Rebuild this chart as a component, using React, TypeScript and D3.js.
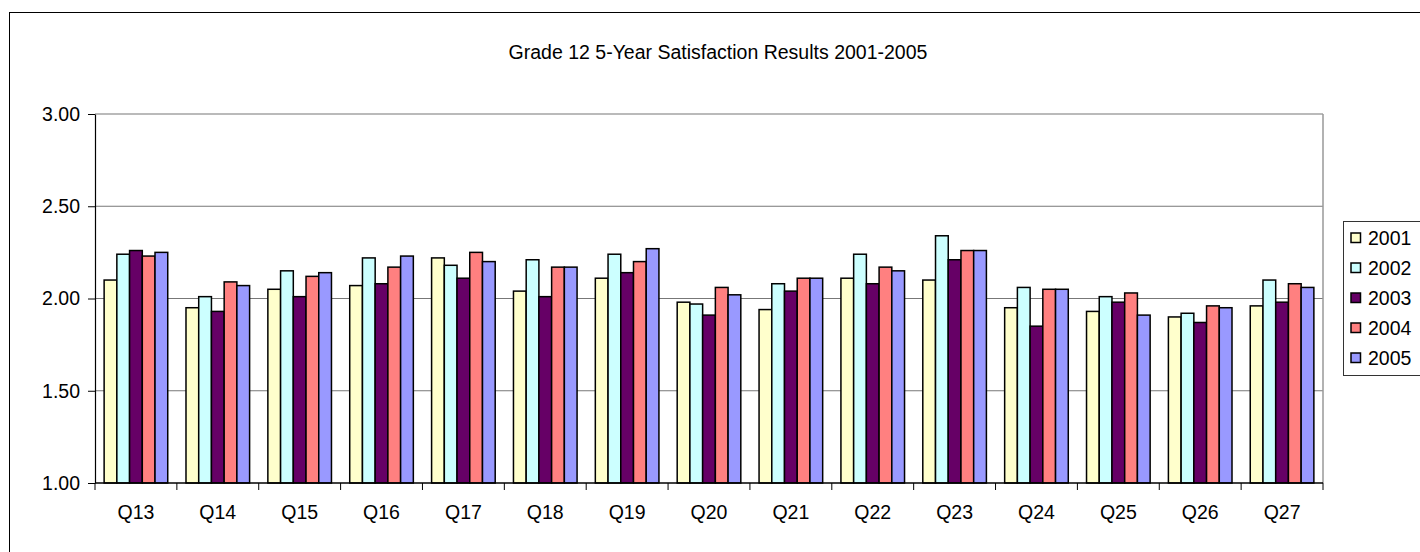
import React, { useEffect, useRef } from 'react'
import * as d3 from 'd3'

const questions = ['Q13', 'Q14', 'Q15', 'Q16', 'Q17', 'Q18', 'Q19', 'Q20', 'Q21', 'Q22', 'Q23', 'Q24', 'Q25', 'Q26', 'Q27']
const years = ['2001', '2002', '2003', '2004', '2005']
const y2001 = [2.10, 1.95, 2.05, 2.07, 2.22, 2.04, 2.11, 1.98, 1.94, 2.11, 2.10, 1.95, 1.93, 1.90, 1.96]
const y2002 = [2.24, 2.01, 2.15, 2.22, 2.18, 2.21, 2.24, 1.97, 2.08, 2.24, 2.34, 2.06, 2.01, 1.92, 2.10]
const y2003 = [2.26, 1.93, 2.01, 2.08, 2.11, 2.01, 2.14, 1.91, 2.04, 2.08, 2.21, 1.85, 1.98, 1.87, 1.98]
const y2004 = [2.23, 2.09, 2.12, 2.17, 2.25, 2.17, 2.20, 2.06, 2.11, 2.17, 2.26, 2.05, 2.03, 1.96, 2.08]
const y2005 = [2.25, 2.07, 2.14, 2.23, 2.20, 2.17, 2.27, 2.02, 2.11, 2.15, 2.26, 2.05, 1.91, 1.95, 2.06]
const yTicks = [1.0, 1.5, 2.0, 2.5, 3.0]
const colors = ['#FFFFCC', '#CCFFFF', '#660066', '#FF8080', '#9999FF']

export default function App() {
    const ref = useRef<SVGSVGElement | null>(null)
    const width = 1420
    const height = 552
    const font = '"Liberation Sans", Arial, sans-serif'

    function draw() {
        const svg = d3.select(ref.current)
        svg.selectAll('*').remove()
        const series = [y2001, y2002, y2003, y2004, y2005]

        // outer chart frame (runs past the window at right/bottom)
        svg.append('rect')
            .attr('x', 9.5).attr('y', 12.5)
            .attr('width', 1440).attr('height', 600)
            .attr('fill', 'white').attr('stroke', 'black').attr('stroke-width', 1)

        svg.append('text')
            .attr('x', 718).attr('y', 59)
            .attr('text-anchor', 'middle')
            .style('font-family', font).style('font-size', '19.5px')
            .text('Grade 12 5-Year Satisfaction Results 2001-2005')

        const left = 95, right = 1323, top = 114, bottom = 483
        const y = d3.scaleLinear().domain([1, 3]).range([bottom, top])
        const x0 = d3.scaleBand().domain(questions).range([left, right]).padding(0)
        const gap = x0.bandwidth() * 0.223
        const x1 = d3.scaleBand().domain(years).range([gap / 2, x0.bandwidth() - gap / 2]).padding(0)

        // gridlines
        svg.append('g').selectAll('line')
            .data(yTicks.filter(d => d > 1))
            .enter().append('line')
            .attr('x1', left).attr('x2', right)
            .attr('y1', d => y(d)).attr('y2', d => y(d))
            .attr('stroke', '#777').attr('stroke-width', 1.2)

        // right border of plot area
        svg.append('line')
            .attr('x1', right).attr('x2', right).attr('y1', top).attr('y2', bottom)
            .attr('stroke', '#999').attr('stroke-width', 1.5)

        const groups = svg.append('g').selectAll('g')
            .data(questions)
            .enter().append('g')
            .attr('transform', d => 'translate(' + x0(d) + ',0)')

        groups.selectAll('rect')
            .data((q, i) => years.map((yr, j) => ({ yr, j, v: series[j][i] })))
            .enter().append('rect')
            .attr('x', (d: any) => x1(d.yr)!)
            .attr('width', x1.bandwidth())
            .attr('y', (d: any) => y(d.v))
            .attr('height', (d: any) => bottom - y(d.v))
            .attr('fill', (d: any) => colors[d.j])
            .attr('stroke', 'black').attr('stroke-width', 1.5)

        // y axis
        const yAxis = d3.axisLeft(y).tickValues(yTicks).tickFormat(d3.format('.2f')).tickSize(7).tickSizeOuter(0)
        const ya = svg.append('g').attr('transform', 'translate(' + left + ',0)').call(yAxis)
        ya.select('.domain').attr('stroke', 'black').attr('stroke-width', 1.2)
        ya.selectAll('line').attr('stroke', 'black')
        ya.selectAll('text').attr('x', -15).attr('fill', 'black')
            .style('font-family', font).style('font-size', '19.5px')

        // x axis
        const xa = svg.append('g').attr('transform', 'translate(0,' + bottom + ')')
        xa.append('line').attr('x1', left).attr('x2', right).attr('stroke', 'black').attr('stroke-width', 1.5)
        xa.selectAll('line.tick')
            .data(questions.concat(['end']))
            .enter().append('line')
            .attr('class', 'tick')
            .attr('x1', (d, i) => i < questions.length ? x0(d)! : right)
            .attr('x2', (d, i) => i < questions.length ? x0(d)! : right)
            .attr('y1', 0).attr('y2', 7)
            .attr('stroke', 'black')
        xa.selectAll('text')
            .data(questions)
            .enter().append('text')
            .attr('x', d => x0(d)! + x0.bandwidth() / 2)
            .attr('y', 36)
            .attr('text-anchor', 'middle')
            .style('font-family', font).style('font-size', '19.5px')
            .text(d => d)

        // legend
        const lg = svg.append('g').attr('transform', 'translate(1343,221)')
        lg.append('rect')
            .attr('x', 0.5).attr('y', 0.5).attr('width', 120).attr('height', 154)
            .attr('fill', 'white').attr('stroke', '#333').attr('stroke-width', 1)
        const items = lg.selectAll('g.item')
            .data(years)
            .enter().append('g')
            .attr('class', 'item')
            .attr('transform', (d, i) => 'translate(0,' + (17 + i * 30) + ')')
        items.append('rect')
            .attr('x', 8).attr('y', -5).attr('width', 9.5).attr('height', 9.5)
            .attr('fill', (d, i) => colors[i]).attr('stroke', 'black').attr('stroke-width', 1.5)
        items.append('text')
            .attr('x', 25).attr('y', 7)
            .style('font-family', font).style('font-size', '19.5px')
            .text(d => d)
    }

    useEffect(() => {
        draw()
    }, [])

    return (
        <svg ref={ref} width={width} height={height}
            style={{ position: 'absolute', left: 0, top: 0, display: 'block', background: 'white' }} />
    )
}
